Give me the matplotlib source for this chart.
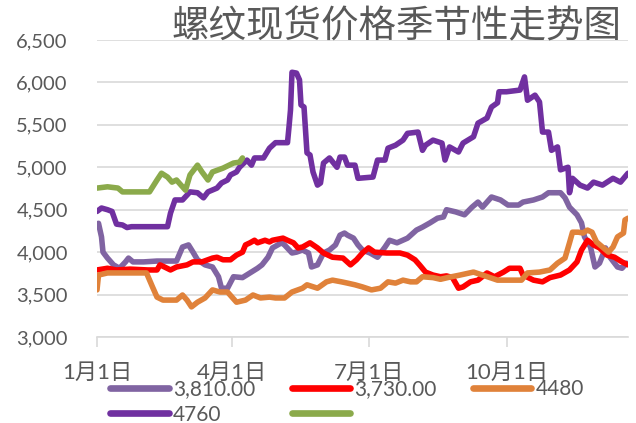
import matplotlib
matplotlib.use('Agg')
import matplotlib.pyplot as plt

plt.rcParams['font.family'] = ['Lato', 'Noto Sans CJK SC', 'DejaVu Sans']

# 日序号（从1月1日起）与价格
days_3810 = [0, 1, 3, 4, 7, 11, 15, 19, 21, 24, 31, 40, 53, 57, 61, 64, 67, 72, 77, 81, 83, 87,
             91, 97, 102, 107, 110, 114, 117, 123, 125, 130, 133, 137, 141, 143, 147, 151, 155,
             159, 162, 165, 167, 171, 174, 177, 182, 187, 192, 195, 200, 207, 213, 217, 222,
             227, 231, 233, 239, 245, 250, 254, 257, 263, 269, 274, 281, 284, 291, 297, 301,
             309, 312, 315, 320, 323, 325, 329, 332, 335, 339, 342, 347, 350, 353]
vals_3810 = [4320, 4340, 4180, 4000, 3930, 3850, 3810, 3885, 3930, 3885, 3885, 3895, 3895, 4060,
             4085, 4000, 3910, 3850, 3825, 3710, 3575, 3575, 3710, 3700, 3755, 3810, 3850, 3940,
             4050, 4110, 4085, 3990, 4000, 4025, 3990, 3825, 3850, 3990, 4025, 4085, 4200, 4225,
             4200, 4165, 4085, 4025, 3990, 3940, 4060, 4140, 4110, 4165, 4260, 4295, 4345, 4400,
             4415, 4500, 4475, 4440, 4530, 4590, 4530, 4650, 4615, 4555, 4555, 4590, 4615, 4650,
             4700, 4700, 4640, 4530, 4440, 4345, 4180, 4060, 3825, 3870, 4050, 3940, 3825, 3810,
             3870]

days_3730 = [0, 7, 13, 22, 34, 40, 42, 45, 49, 53, 60, 64, 70, 77, 80, 84, 89, 93, 97, 99, 102,
             105, 107, 112, 115, 117, 124, 127, 131, 134, 137, 142, 147, 151, 157, 164, 169, 173,
             177, 181, 185, 193, 202, 207, 212, 215, 219, 224, 229, 233, 237, 241, 244, 249, 254,
             260, 265, 271, 275, 282, 284, 291, 297, 302, 309, 315, 320, 323, 327, 331, 335, 340,
             345, 350, 354]
vals_3730 = [3790, 3810, 3790, 3800, 3790, 3790, 3850, 3825, 3790, 3825, 3850, 3885, 3885, 3930,
             3940, 3910, 3910, 3965, 4000, 4085, 4110, 4140, 4110, 4140, 4120, 4140, 4165, 4140,
             4110, 4050, 4060, 4110, 4050, 3990, 3940, 3930, 3850, 3910, 3990, 4050, 4000, 3990,
             3990, 3965, 3910, 3850, 3765, 3730, 3710, 3720, 3700, 3575, 3590, 3650, 3670, 3755,
             3710, 3765, 3810, 3810, 3730, 3670, 3650, 3700, 3730, 3790, 3885, 4025, 4140, 4085,
             4050, 3965, 3940, 3885, 3850]

days_4480 = [0, 1, 7, 33, 37, 40, 44, 53, 57, 60, 63, 67, 72, 77, 82, 87, 90, 93, 99, 104, 109,
             115, 119, 125, 130, 137, 140, 147, 153, 157, 163, 167, 172, 177, 183, 189, 194, 199,
             204, 209, 213, 217, 224, 229, 235, 242, 251, 257, 267, 275, 283, 287, 295, 302, 307,
             312, 315, 317, 321, 324, 327, 330, 333, 337, 341, 344, 347, 351, 352, 354]
vals_4480 = [3555, 3730, 3755, 3755, 3590, 3470, 3435, 3435, 3495, 3435, 3355, 3410, 3460, 3555,
             3530, 3530, 3470, 3410, 3435, 3495, 3460, 3470, 3460, 3460, 3530, 3575, 3615, 3575,
             3650, 3670, 3650, 3635, 3615, 3590, 3555, 3575, 3650, 3635, 3670, 3650, 3650, 3710,
             3700, 3680, 3705, 3730, 3765, 3730, 3670, 3670, 3670, 3755, 3765, 3790, 3870, 3930,
             4110, 4235, 4235, 4225, 4260, 4235, 4120, 4060, 4000, 4060, 4180, 4225, 4380, 4400]

days_4760 = [0, 3, 7, 10, 13, 17, 20, 23, 47, 49, 52, 57, 62, 67, 71, 74, 80, 83, 87, 89, 93, 95,
             100, 103, 105, 111, 115, 119, 127, 128, 129, 130, 133, 135, 136, 138, 140, 142, 144,
             147, 149, 151, 155, 160, 162, 165, 167, 172, 174, 184, 187, 192, 194, 199, 204, 207,
             214, 217, 219, 224, 230, 232, 235, 241, 244, 251, 254, 260, 263, 267, 268, 273, 282,
             285, 287, 292, 295, 297, 301, 303, 307, 309, 314, 315, 317, 322, 327, 331, 337, 344,
             349, 354]
vals_4760 = [4480, 4520, 4500, 4480, 4330, 4320, 4290, 4300, 4300, 4460, 4615, 4615, 4710, 4700,
             4640, 4710, 4755, 4815, 4850, 4910, 4945, 5000, 5085, 5025, 5110, 5110, 5225, 5290,
             5290, 5475, 5675, 6120, 6110, 6030, 5735, 5710, 5170, 5145, 4945, 4790, 4815, 5050,
             5110, 5000, 5120, 5120, 5025, 5025, 4870, 4885, 5085, 5085, 5225, 5260, 5320, 5400,
             5415, 5200, 5260, 5320, 5285, 5085, 5240, 5180, 5285, 5360, 5520, 5580, 5710, 5760,
             5890, 5890, 5910, 6065, 5790, 5850, 5770, 5415, 5415, 5200, 5240, 4970, 5000, 4700,
             4870, 4790, 4755, 4825, 4790, 4870, 4825, 4930]

days_green = [0, 7, 14, 17, 35, 40, 43, 47, 50, 53, 57, 59, 62, 67, 70, 74, 77, 84, 91, 95, 97]
vals_green = [4755, 4770, 4755, 4710, 4710, 4850, 4930, 4885, 4825, 4850, 4770, 4730, 4910, 5025,
              4945, 4850, 4945, 4990, 5050, 5060, 5110]

tick_days = [0, 90, 181, 273]
tick_labels = ['1月1日', '4月1日', '7月1日', '10月1日']
y_ticks = [3000, 3500, 4000, 4500, 5000, 5500, 6000, 6500]

grey = '#595959'
grid = '#d9d9d9'

fig = plt.figure(figsize=(6.36, 4.23), dpi=100)
ax = fig.add_axes([97 / 636, 1 - 337 / 423, 531 / 636, 297 / 423])

lw = 4.0
style = dict(lw=lw, solid_capstyle='round', solid_joinstyle='round')
l1, = ax.plot(days_3810, vals_3810, color='#8064A2', **style)
l2, = ax.plot(days_3730, vals_3730, color='#FF0000', **style)
l3, = ax.plot(days_4480, vals_4480, color='#E0823A', **style)
l4, = ax.plot(days_4760, vals_4760, color='#7030A0', **style)
l5, = ax.plot(days_green, vals_green, color='#8BAA4B', **style)

ax.set_xlim(0, 354)
ax.set_ylim(3000, 6500)
ax.set_yticks(y_ticks)
ax.set_yticklabels([f'{v:,}' for v in y_ticks])
ax.set_xticks(tick_days)
ax.set_xticklabels(tick_labels)
ax.yaxis.grid(True, color=grid, lw=1.2)
ax.set_axisbelow(True)
for s in ['top', 'right', 'left']:
    ax.spines[s].set_visible(False)
ax.spines['bottom'].set_color(grid)
ax.spines['bottom'].set_linewidth(1.2)
ax.tick_params(axis='y', length=0, pad=21, labelsize=14.5, labelcolor=grey)
ax.tick_params(axis='x', length=7, width=1.2, color=grid, pad=12, labelsize=16, labelcolor=grey)

fig.legend([l1, l4, l2, l5, l3], ['3,810.00', '4760', '3,730.00', '', '4480'],
           ncol=3, loc='upper left', bbox_to_anchor=(100 / 636, 1 - 369 / 423),
           frameon=False, fontsize=15, labelcolor=grey, handlelength=2.8,
           handletextpad=0.2, columnspacing=1.75, labelspacing=0.25, borderpad=0)
for lh in fig.legends[0].get_lines():
    lh.set_linewidth(4.8)
    lh.set_solid_capstyle('round')

fig.text(621 / 636, 1 - 27 / 423, '螺纹现货价格季节性走势图', ha='right', va='center',
         fontsize=27, color=grey, family=['Noto Sans CJK SC', 'DejaVu Sans'])

fig.savefig('out.png', dpi=100)
